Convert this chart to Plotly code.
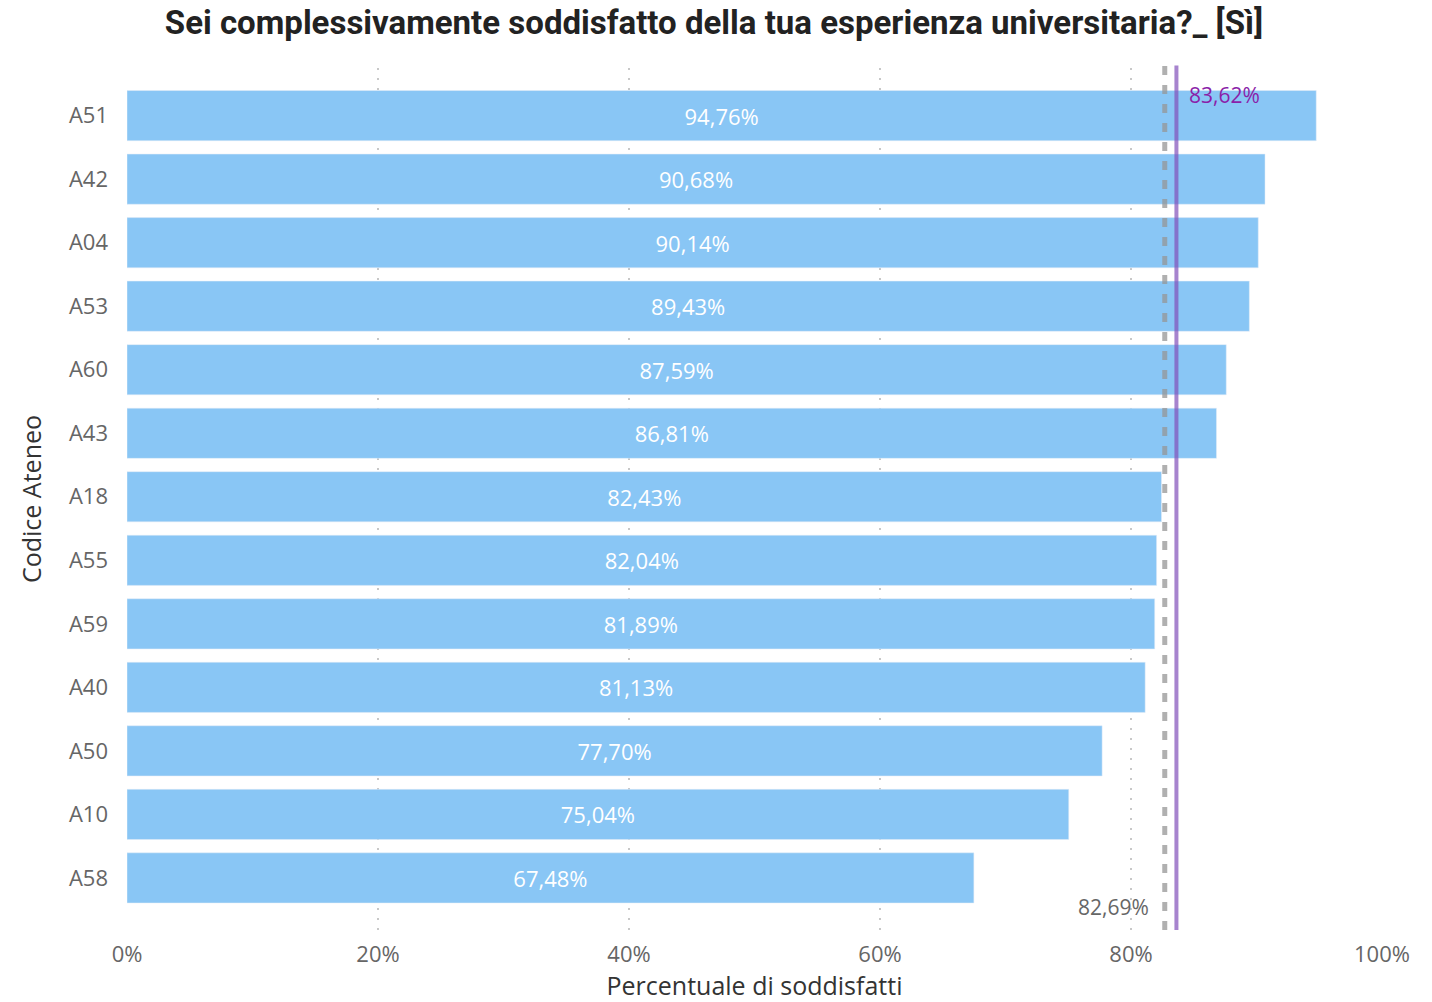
import plotly.graph_objects as go

# ── Data ──────────────────────────────────────────────────────────────────────
atenei = ['A51', 'A42', 'A04', 'A53', 'A60', 'A43', 'A18',
          'A55', 'A59', 'A40', 'A50', 'A10', 'A58']
soddisfatti = [94.76, 90.68, 90.14, 89.43, 87.59, 86.81, 82.43,
               82.04, 81.89, 81.13, 77.70, 75.04, 67.48]
mediana = 82.69
media = 83.62
x_ticks = [0, 20, 40, 60, 80, 100]


def fmt_pct(v):
    return f"{v:.2f}%".replace('.', ',')


BODY_FONT = 'Open Sans'
HEAD_FONT = 'Roboto'

fig = go.Figure()

fig.add_trace(go.Bar(
    x=soddisfatti, y=atenei,
    orientation='h',
    marker_color='#89C6F5',
    text=[fmt_pct(v) for v in soddisfatti],
    textposition='inside',
    insidetextanchor='middle',
    textfont=dict(color='white', size=22, family=BODY_FONT),
    hoverinfo='skip',
))

# reference lines (median dashed, mean solid)
fig.add_shape(type='line', xref='x', yref='paper',
              x0=mediana, x1=mediana, y0=0, y1=1.003,
              line=dict(color='rgba(150,150,150,0.75)', width=5, dash='9px,10px'),
              layer='above')
fig.add_shape(type='line', xref='x', yref='paper',
              x0=media, x1=media, y0=0, y1=1.003,
              line=dict(color='rgba(130,80,185,0.7)', width=4),
              layer='above')

fig.add_annotation(x=media, y=0.969, xref='x', yref='paper', yanchor='middle',
                   text=fmt_pct(media), showarrow=False, xanchor='left', xshift=11,
                   font=dict(color='#8B1FA9', size=21, family=BODY_FONT))
fig.add_annotation(x=mediana, y=0.0, xref='x', yref='paper', yanchor='middle',
                   text=fmt_pct(mediana), showarrow=False, xanchor='right', xshift=-14,
                   yshift=23,
                   font=dict(color='#666666', size=21, family=BODY_FONT))

fig.update_layout(
    width=1432, height=1002,
    title=dict(text='<b>Sei complessivamente soddisfatto della tua esperienza universitaria?_ [Sì]</b>',
               x=0.4986, xanchor='center', y=0.978, yanchor='middle',
               font=dict(family=HEAD_FONT, size=33, color='#222222')),
    xaxis=dict(
        range=[0, 100],
        tickvals=x_ticks,
        ticktext=[f"{t}%" for t in x_ticks],
        showgrid=True, gridcolor='#C8C8C8', griddash='2px,8px', gridwidth=2,
        zeroline=False,
        tickfont=dict(size=22, color='#666666', family=BODY_FONT),
        ticklabelstandoff=9,
        automargin=False,
        title=dict(text='Percentuale di soddisfatti', standoff=15,
                   font=dict(family=BODY_FONT, size=25, color='#333333')),
    ),
    yaxis=dict(
        type='category',
        categoryorder='array', categoryarray=atenei,
        range=[len(atenei) - 1 + 0.82, -0.75],
        showgrid=False, zeroline=False,
        tickfont=dict(size=22, color='#666666', family=BODY_FONT),
        ticklabelstandoff=18,
        automargin=False,
        title=dict(text='Codice Ateneo', standoff=20,
                   font=dict(family=BODY_FONT, size=25, color='#333333')),
    ),
    bargap=0.21,
    showlegend=False,
    plot_bgcolor='white',
    paper_bgcolor='white',
    margin=dict(l=127, r=50, t=68, b=72),
)

# drop the browser's default body margin so the figure fills the window exactly
fig.write_html("out.html",
               config={'displayModeBar': False},
               post_script="document.body.style.margin='0';document.body.style.overflow='hidden';")
